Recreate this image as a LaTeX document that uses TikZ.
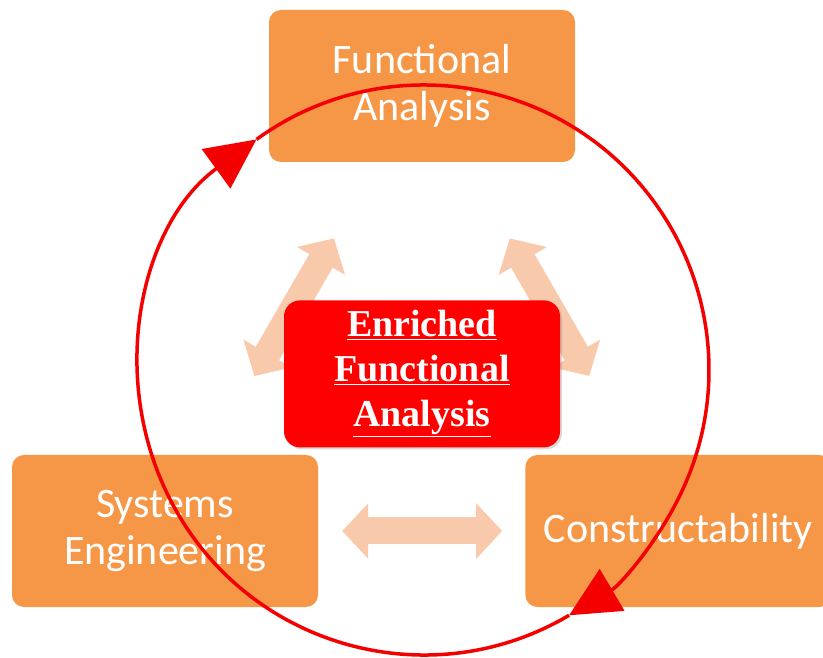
\documentclass[tikz,border=0pt]{standalone}
\usepackage{fontspec}
\usepackage{tikz}
\usetikzlibrary{arrows.meta,positioning,shadows}
\newfontfamily\calibfont{Carlito}
\newfontfamily\timesfont{Liberation Serif}
\definecolor{orange}{RGB}{246, 151, 72}
\definecolor{peach}{RGB}{249, 201, 172}
\definecolor{red}{RGB}{255, 0, 0}
\definecolor{ringred}{RGB}{245, 0, 0}
\tikzstyle{blk} = [rectangle, rounded corners=12pt, fill=orange, text=white, align=center, font=\calibfont\fontsize{42}{47}\selectfont, minimum width=306pt, minimum height=152pt]
\tikzstyle{core} = [rectangle, rounded corners=16pt, fill=red, text=white, align=center, font=\timesfont\bfseries\fontsize{38}{45}\selectfont, minimum width=276pt, minimum height=147pt, drop shadow={opacity=0.3, shadow xshift=2pt, shadow yshift=-2pt}]
\tikzstyle{dedge} = [draw=peach, line width=27pt, {Triangle[length=26pt,width=54pt]}-{Triangle[length=26pt,width=54pt]}]
\tikzstyle{ring} = [draw=ringred, line width=3.5pt, -{Triangle[length=50pt,width=48pt]}]

\begin{document}
\begin{tikzpicture}[x=1pt, y=1pt]
\clip (0,0) rectangle (823,657);

% boxes =============================
\node[blk] (func) at (422,571) {Functional\\Analysis};
\node[blk] (sys) at (165,126) {Systems\\Engineering};
\node[blk, right=207pt of sys] (con) {Constructability};

% double arrows
\path[dedge, shorten <=91pt, shorten >=88pt] (sys) -- (func);
\path[dedge, shorten <=91pt, shorten >=88pt] (con) -- (func);
\path[dedge, shorten <=24pt, shorten >=23pt] (sys) -- (con);

% centre
\node[core, below=138pt of func] (efa) {\underline{Enriched}\\\underline{Functional}\\\underline{Analysis}};

% cycle
\coordinate (ctr) at (424,287);
\draw[ring] (ctr) ++(-59.4:285) arc[start angle=-59.4, end angle=-234, radius=285];
\draw[ring] (ctr) ++(126:285) arc[start angle=126, end angle=-59.4, radius=285];

\end{tikzpicture}
\end{document}
